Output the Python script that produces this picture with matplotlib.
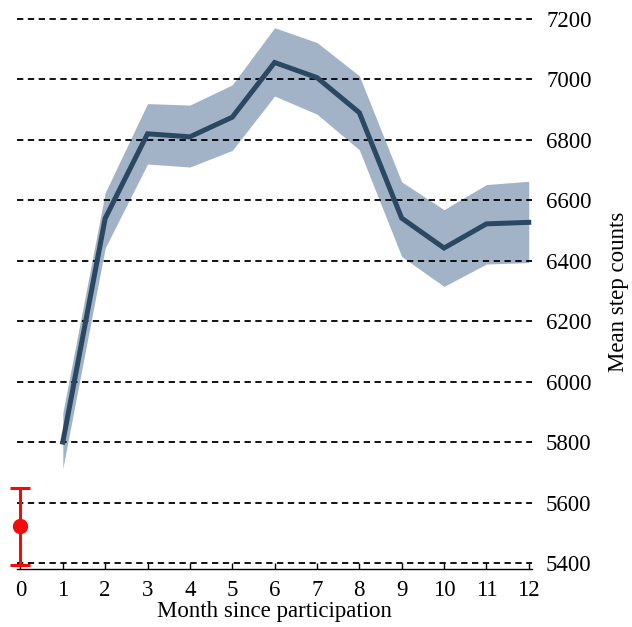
import matplotlib
matplotlib.use("Agg")
import matplotlib.pyplot as plt
import numpy as np

plt.rcParams["font.family"] = ["Liberation Serif", "DejaVu Serif"]

# data
months = [1, 2, 3, 4, 5, 6, 7, 8, 9, 10, 11, 12]
mean_steps = [5800, 6540, 6820, 6810, 6875, 7056, 7006, 6890, 6541, 6442, 6522, 6527]
upper = [5897, 6625, 6920, 6915, 6982, 7171, 7122, 7012, 6661, 6569, 6652, 6663]
lower = [5712, 6442, 6720, 6710, 6765, 6945, 6885, 6767, 6414, 6315, 6389, 6394]

baseline_month = [0]
baseline_mean = [5522]
baseline_lo = [5392]
baseline_hi = [5647]

yticks = [5400, 5600, 5800, 6000, 6200, 6400, 6600, 6800, 7000, 7200]
xticks = list(range(0, 13))

fig = plt.figure(figsize=(6.32, 6.27), dpi=100)
ax = fig.add_axes([0.027, 0.0925, 0.815, 0.8845])

ax.fill_between(months, lower, upper, color="#a3b3c7", lw=0, zorder=1)
ax.plot(months, mean_steps, color="#2b4863", lw=3.6, zorder=3,
        solid_joinstyle="miter")

err = [[baseline_mean[0] - baseline_lo[0]], [baseline_hi[0] - baseline_mean[0]]]
ax.errorbar(baseline_month, baseline_mean, yerr=err, fmt="o", color="#f50a0a",
            ms=10, elinewidth=2.2, capsize=7, capthick=2.2, zorder=4,
            clip_on=False)

ax.set_xlim(-0.08, 12.08)
ax.set_ylim(5380, 7215)
ax.set_xticks(xticks)
ax.set_yticks(yticks)

ax.yaxis.tick_right()
ax.yaxis.set_label_position("right")
ax.grid(axis="y", color="black", linestyle=(0, (3.5, 2.5)), lw=1.3, zorder=2)
ax.set_axisbelow(False)

for s in ["top", "left", "right"]:
    ax.spines[s].set_visible(False)
ax.spines["bottom"].set_linewidth(1.0)

ax.tick_params(axis="x", direction="in", length=4, width=1.0, labelsize=16.5, pad=8)
ax.tick_params(axis="y", length=0, labelsize=16.5, pad=10)

ax.set_ylabel("Mean step counts", fontsize=16.5, labelpad=12)
ax.set_xlabel("Month since participation", fontsize=16.5, labelpad=0)

fig.savefig("out.png", dpi=100)
